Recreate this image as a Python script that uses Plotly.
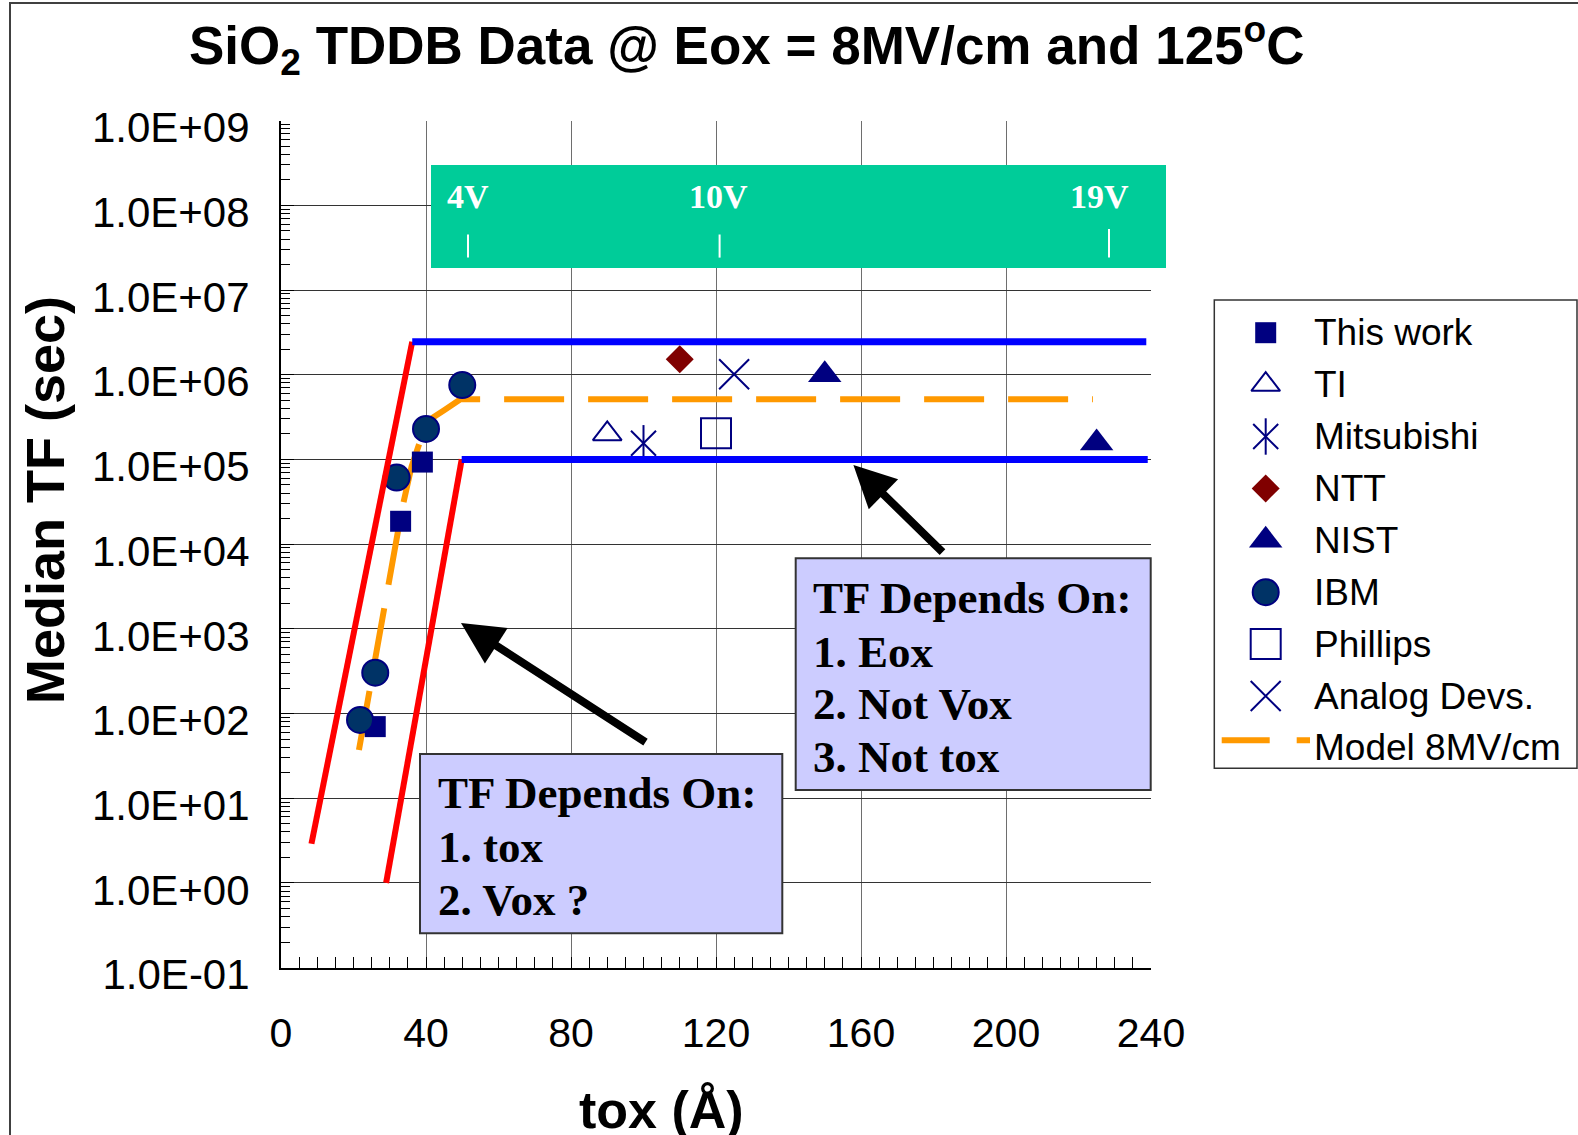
import plotly.graph_objects as go

# ---------------- data ----------------
this_work_tox = [26, 33, 39]
this_work_tf = [70, 1.86e4, 9.3e4]
ti_tox = [90]
ti_tf = [2.0e5]
mitsubishi_tox = [100]
mitsubishi_tf = [1.55e5]
ntt_tox = [110]
ntt_tf = [1.52e6]
nist_tox = [150, 225]
nist_tf = [1.0e6, 1.56e5]
ibm_tox = [21.8, 26, 31.9, 40, 50]
ibm_tf = [84, 303, 6.1e4, 2.29e5, 7.55e5]
phillips_tox = [120]
phillips_tf = [2.03e5]
analog_tox = [125]
analog_tf = [1.01e6]
model_tox = [21.5, 31, 33.3, 36, 40.2, 45, 49.5, 224]
model_tf = [37, 7.8e3, 2.5e4, 8.2e4, 2.8e5, 3.8e5, 5.13e5, 5.13e5]

upper_red_tox = [8.4, 36.2]
upper_red_tf = [2.9, 2.45e6]
upper_blue_tox = [36.2, 238.7]
upper_blue_tf = [2.45e6, 2.45e6]
lower_red_tox = [29.0, 49.85]
lower_red_tf = [1.0, 1.0e5]
lower_blue_tox = [49.85, 239.1]
lower_blue_tf = [1.0e5, 1.0e5]

y_tick_vals = [1e-1, 1e0, 1e1, 1e2, 1e3, 1e4, 1e5, 1e6, 1e7, 1e8, 1e9]
y_tick_text = ["1.0E-01", "1.0E+00", "1.0E+01", "1.0E+02", "1.0E+03", "1.0E+04",
               "1.0E+05", "1.0E+06", "1.0E+07", "1.0E+08", "1.0E+09"]
x_tick_vals = [0, 40, 80, 120, 160, 200, 240]

legend_names = ["This work", "TI", "Mitsubishi", "NTT", "NIST", "IBM",
                "Phillips", "Analog Devs.", "Model 8MV/cm"]
vox_labels = ["4V", "10V", "19V"]
box1_lines = ["TF Depends On:", "1. tox", "2. Vox ?"]
box2_lines = ["TF Depends On:", "1. Eox", "2. Not Vox", "3. Not tox"]
title_text = "SiO<sub>2</sub> TDDB Data @ Eox = 8MV/cm and 125<sup>o</sup>C"
x_title = "tox (Å)"
y_title = "Median TF (sec)"

# ---------------- styling / layout ----------------
W, H = 1578, 1135
PX0, PX1 = 281, 1151       # plot area, pixels
PY0, PY1 = 120.6, 967.6


def fx(px):
    return px / W


def fy(py):
    return 1 - py / H


NAVY = "#000080"
SANS = "Liberation Sans, Arial, sans-serif"
SERIF = "Liberation Serif, Times New Roman, serif"

marker_styles = {
    "This work": [dict(symbol="square", size=21, color=NAVY, line=dict(width=0))],
    "TI": [dict(symbol="triangle-up-open", size=25, color=NAVY, line=dict(width=2, color=NAVY))],
    "Mitsubishi": [dict(symbol="x-thin-open", size=25, color=NAVY, line=dict(width=2, color=NAVY)),
                   dict(symbol="line-ns-open", size=26, color=NAVY, line=dict(width=2, color=NAVY))],
    "NTT": [dict(symbol="diamond", size=21.5, color="#800000", line=dict(width=0))],
    "NIST": [dict(symbol="triangle-up", size=29, color=NAVY, line=dict(width=0))],
    "IBM": [dict(symbol="circle", size=26, color="#003366", line=dict(width=2, color=NAVY))],
    "Phillips": [dict(symbol="square-open", size=30, color=NAVY, line=dict(width=2, color=NAVY))],
    "Analog Devs.": [dict(symbol="x-thin-open", size=30, color=NAVY, line=dict(width=2, color=NAVY))],
}
series_data = {
    "This work": (this_work_tox, this_work_tf),
    "TI": (ti_tox, ti_tf),
    "Mitsubishi": (mitsubishi_tox, mitsubishi_tf),
    "NTT": (ntt_tox, ntt_tf),
    "NIST": (nist_tox, nist_tf),
    "IBM": (ibm_tox, ibm_tf),
    "Phillips": (phillips_tox, phillips_tf),
    "Analog Devs.": (analog_tox, analog_tf),
}

fig = go.Figure()

# model line (under markers)
MODEL_DASH = "60px,24px"
fig.add_trace(go.Scatter(x=model_tox, y=model_tf, mode="lines", name="Model 8MV/cm",
                         line=dict(color="#FF9900", width=6, dash=MODEL_DASH),
                         showlegend=False, hoverinfo="skip"))

for name, (xs, ys) in series_data.items():
    for m in marker_styles[name]:
        fig.add_trace(go.Scatter(x=xs, y=ys, mode="markers", name=name,
                                 marker=m, showlegend=False, cliponaxis=False))

# bounding lines drawn on top
for xs, ys, col, w in [(upper_red_tox, upper_red_tf, "#FF0000", 6),
                       (lower_red_tox, lower_red_tf, "#FF0000", 6),
                       (upper_blue_tox, upper_blue_tf, "#0000FF", 7),
                       (lower_blue_tox, lower_blue_tf, "#0000FF", 7)]:
    fig.add_trace(go.Scatter(x=xs, y=ys, mode="lines", line=dict(color=col, width=w),
                             showlegend=False, hoverinfo="skip"))

# ---------- custom legend on its own hidden axes ----------
LEG_X0, LEG_X1, LEG_Y0, LEG_Y1 = 1214.3, 1577.0, 300.0, 768.3
ROW0, ROWH = 332.7, 51.9
k_top = (LEG_Y0 - ROW0) / ROWH
k_bot = (LEG_Y1 - ROW0) / ROWH
sym_x = (1265.7 - LEG_X0) / (LEG_X1 - LEG_X0)
txt_x = (1311.5 - LEG_X0) / (LEG_X1 - LEG_X0)

annotations = []
for k, name in enumerate(legend_names):
    if name in marker_styles:
        for m in marker_styles[name]:
            fig.add_trace(go.Scatter(x=[sym_x], y=[k], mode="markers", marker=m,
                                     xaxis="x2", yaxis="y2", showlegend=False,
                                     hoverinfo="skip", cliponaxis=False))
    else:
        ky = (740.3 - ROW0) / ROWH
        fig.add_trace(go.Scatter(x=[(1221.7 - LEG_X0) / (LEG_X1 - LEG_X0),
                                    (1310 - LEG_X0) / (LEG_X1 - LEG_X0)],
                                 y=[ky, ky], mode="lines",
                                 line=dict(color="#FF9900", width=6, dash="48px,27px"),
                                 xaxis="x2", yaxis="y2", showlegend=False, hoverinfo="skip"))
    annotations.append(dict(x=txt_x, y=k, xref="x2", yref="y2", text=name, showarrow=False,
                            xanchor="left", yanchor="middle",
                            font=dict(family=SANS, size=37, color="black")))

# ---------- titles ----------
annotations.append(dict(x=fx(746.7), y=fy(45.3), xref="paper", yref="paper", text="<b>" + title_text + "</b>",
                        showarrow=False, xanchor="center", yanchor="middle",
                        font=dict(family=SANS, size=53, color="black")))
annotations.append(dict(x=fx(661), y=fy(1110), xref="paper", yref="paper", text="<b>" + x_title + "</b>",
                        showarrow=False, xanchor="center", yanchor="middle",
                        font=dict(family=SANS, size=52, color="black")))
annotations.append(dict(x=fx(45), y=fy(500), xref="paper", yref="paper", text="<b>" + y_title + "</b>",
                        showarrow=False, xanchor="center", yanchor="middle", textangle=-90,
                        font=dict(family=SANS, size=54, color="black")))

# ---------- green Vox band labels ----------
for lab, px in zip(vox_labels, [468, 718.6, 1099]):
    annotations.append(dict(x=fx(px), y=fy(197), xref="paper", yref="paper", text="<b>" + lab + "</b>",
                            showarrow=False, xanchor="center", yanchor="middle",
                            font=dict(family=SERIF, size=34, color="white")))

# ---------- text boxes ----------
for line, py in zip(box1_lines, [793.3, 846.7, 900.0]):
    annotations.append(dict(x=fx(436.3), y=fy(py), xref="paper", yref="paper", text="<b>" + line + "</b>",
                            showarrow=False, xanchor="left", yanchor="middle",
                            font=dict(family=SERIF, size=45, color="black")))
for line, py in zip(box2_lines, [598.3, 651.5, 704.3, 756.7]):
    annotations.append(dict(x=fx(811.3), y=fy(py), xref="paper", yref="paper", text="<b>" + line + "</b>",
                            showarrow=False, xanchor="left", yanchor="middle",
                            font=dict(family=SERIF, size=45, color="black")))

# ---------- arrows ----------
for tip, tail in [((461, 623), (647, 743)), ((853.4, 465), (944, 553.5))]:
    annotations.append(dict(x=fx(tip[0]), y=fy(tip[1]), xref="paper", yref="paper", text="",
                            showarrow=True, arrowhead=2, arrowsize=1.05, arrowwidth=8, arrowcolor="black",
                            ax=tail[0] - tip[0], ay=tail[1] - tip[1]))

# ---------- shapes ----------
shapes = [
    # outer frame
    dict(type="rect", xref="paper", yref="paper", x0=fx(10), x1=fx(1700), y0=fy(1300), y1=fy(3),
         line=dict(color="#404040", width=2), fillcolor="rgba(0,0,0,0)", layer="below"),
    # green Vox band
    dict(type="rect", xref="paper", yref="paper", x0=fx(431), x1=fx(1166), y0=fy(268), y1=fy(165),
         line=dict(width=0), fillcolor="#00CC99", layer="above"),
    # text boxes
    dict(type="rect", xref="paper", yref="paper", x0=fx(420), x1=fx(782.3), y0=fy(933.3), y1=fy(754),
         line=dict(color="#333333", width=2), fillcolor="#CCCCFF", layer="above"),
    dict(type="rect", xref="paper", yref="paper", x0=fx(795.7), x1=fx(1150.7), y0=fy(790), y1=fy(558.3),
         line=dict(color="#333333", width=2), fillcolor="#CCCCFF", layer="above"),
    # legend frame
    dict(type="rect", xref="paper", yref="paper", x0=fx(LEG_X0), x1=fx(LEG_X1), y0=fy(LEG_Y1), y1=fy(LEG_Y0),
         line=dict(color="#333333", width=1.5), fillcolor="rgba(0,0,0,0)", layer="above"),
]
for px, top in [(468, 234.5), (719.6, 234.5), (1109, 229)]:
    shapes.append(dict(type="line", xref="paper", yref="paper", x0=fx(px), x1=fx(px), y0=fy(257.6), y1=fy(top),
                       line=dict(color="white", width=2), layer="above"))

minor_y = [m * 10.0 ** d for d in range(-1, 9) for m in range(2, 10)]

fig.update_layout(
    width=W, height=H, template="none",
    paper_bgcolor="white", plot_bgcolor="white",
    margin=dict(l=0, r=0, t=0, b=0, pad=0),
    showlegend=False,
    xaxis=dict(domain=[fx(PX0), fx(PX1)], range=[0, 240], tickmode="array", tickvals=x_tick_vals,
               ticks="inside", ticklen=11, tickwidth=1, tickcolor="black",
               showline=True, linecolor="black", linewidth=2,
               showgrid=True, gridcolor="#6e6e6e", gridwidth=1, zeroline=False,
               minor=dict(tickvals=list(range(5, 240, 5)), ticks="inside", ticklen=11,
                          tickcolor="black", tickwidth=1, showgrid=False),
               tickfont=dict(family=SANS, size=41, color="black"),
               ticklabelstandoff=28, automargin=False, fixedrange=True, anchor="y"),
    yaxis=dict(domain=[fy(PY1), fy(PY0)], type="log", range=[-1, 9], tickmode="array",
               tickvals=y_tick_vals, ticktext=y_tick_text,
               ticks="inside", ticklen=13, tickwidth=1, tickcolor="black",
               showline=True, linecolor="black", linewidth=2,
               showgrid=True, gridcolor="#333333", gridwidth=1, zeroline=False,
               minor=dict(tickvals=minor_y, ticks="inside", ticklen=9, tickcolor="black",
                          tickwidth=1, showgrid=False),
               tickfont=dict(family=SANS, size=42, color="black"),
               ticklabelstandoff=21, ticklabelshift=7, automargin=False, fixedrange=True, anchor="x"),
    xaxis2=dict(domain=[fx(LEG_X0), fx(LEG_X1)], range=[0, 1], visible=False, anchor="y2", fixedrange=True),
    yaxis2=dict(domain=[fy(LEG_Y1), fy(LEG_Y0)], range=[k_bot, k_top], visible=False, anchor="x2",
                fixedrange=True),
    annotations=annotations,
    shapes=shapes,
)

fig.write_html("out.html")
